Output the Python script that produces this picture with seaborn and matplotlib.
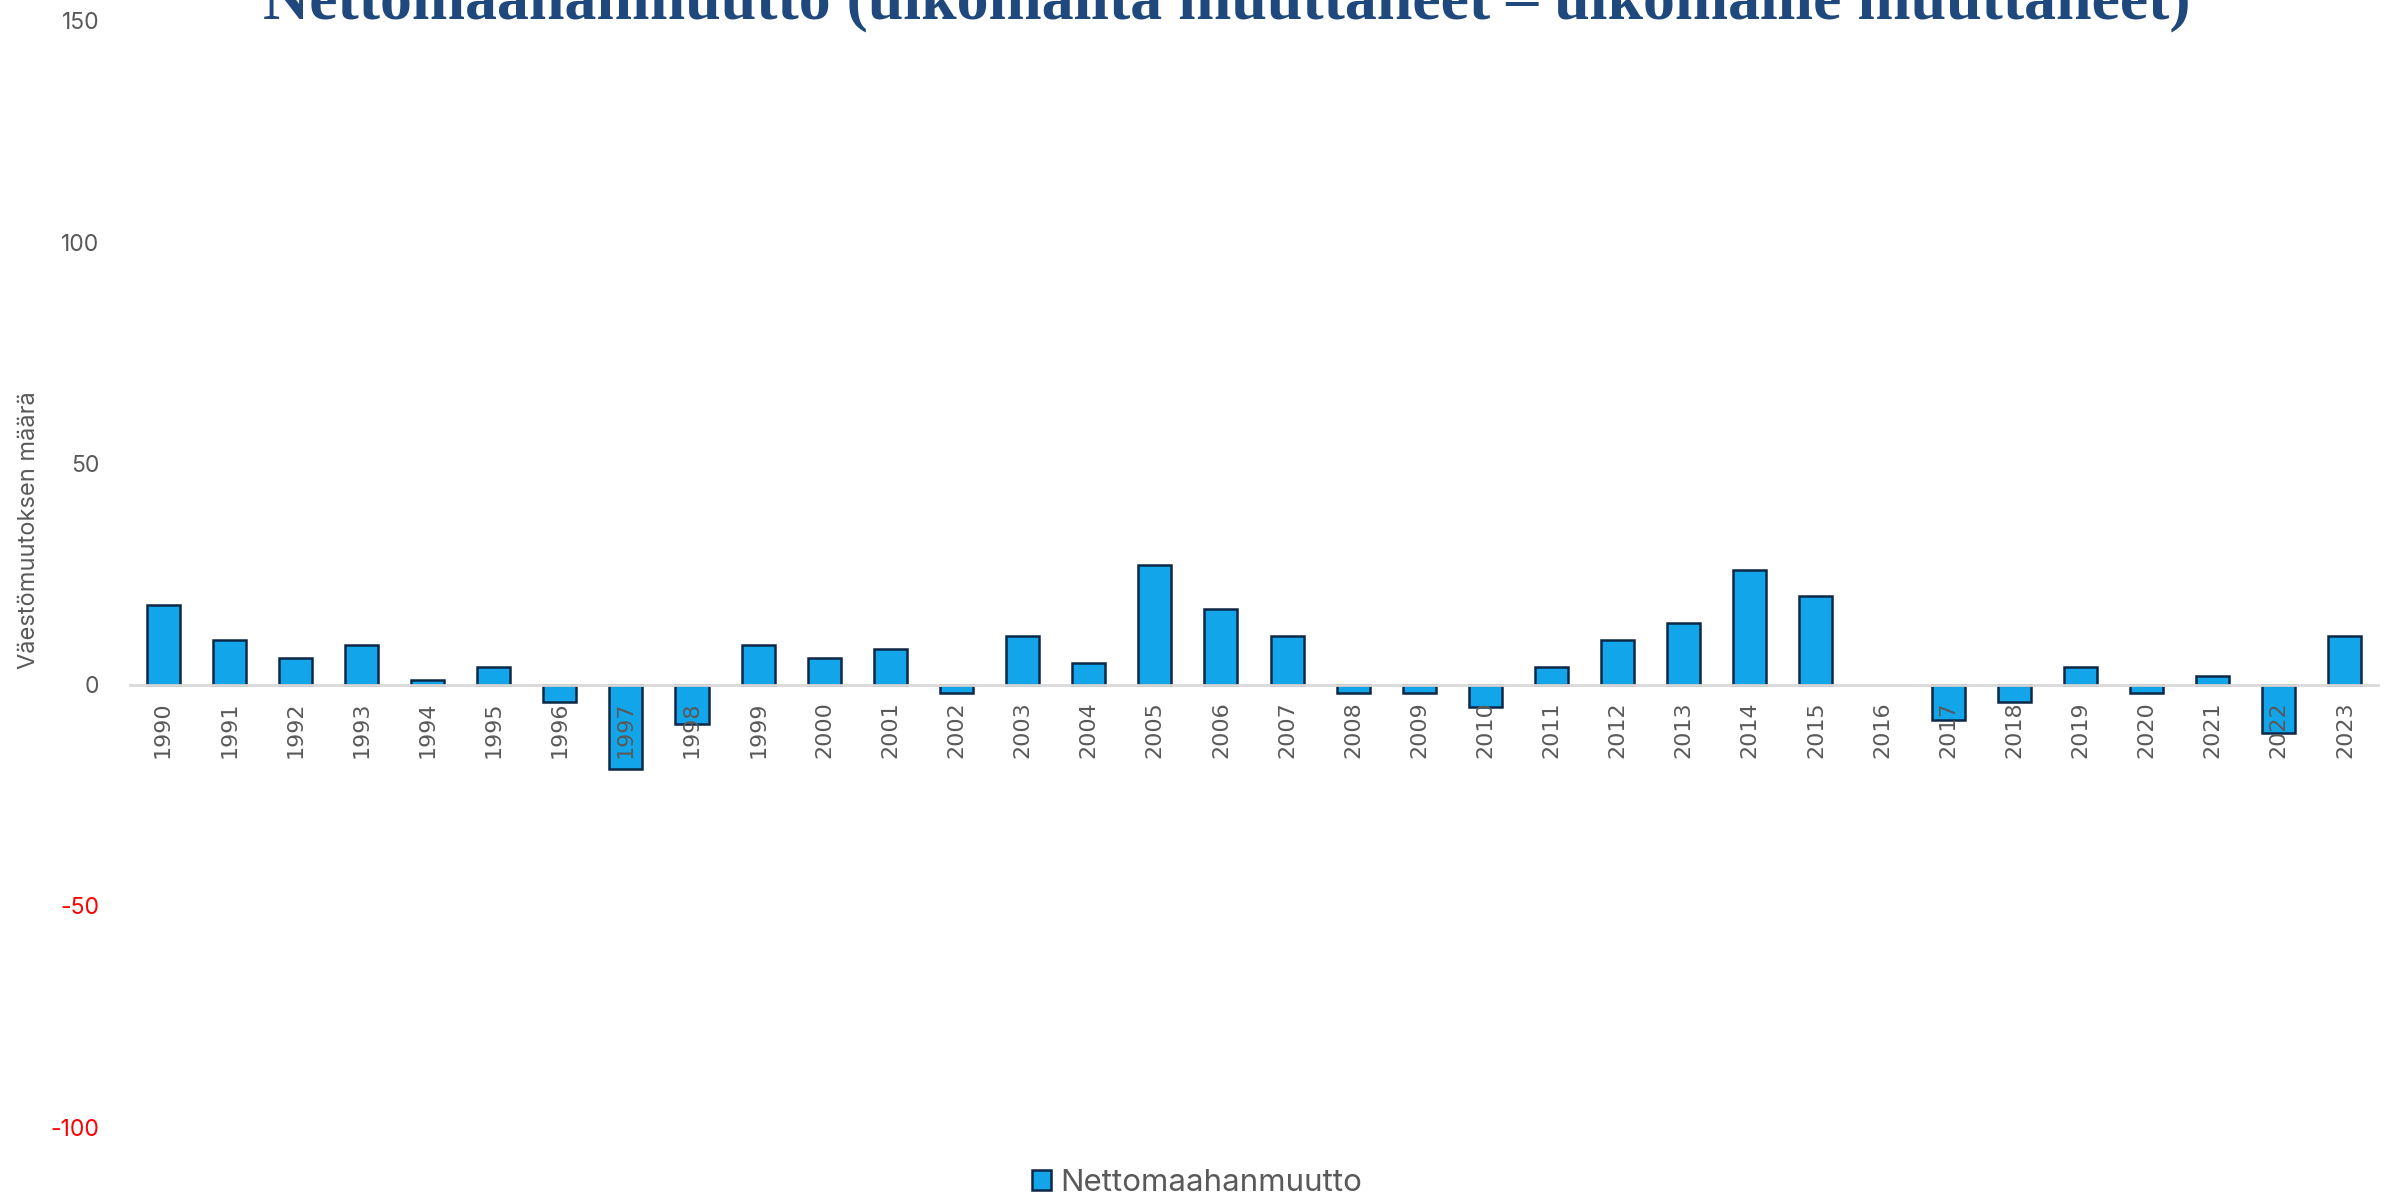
import matplotlib
matplotlib.use("Agg")
import matplotlib.pyplot as plt
import seaborn as sns
import pandas as pd

years = [str(y) for y in range(1990, 2024)]
values = [18, 10, 6, 9, 1, 4, -4, -19, -9, 9, 6, 8, -2, 11, 5, 27,
          17, 11, -2, -2, -5, 4, 10, 14, 26, 20, 0, -8, -4, 4, -2, 2, -11, 11]
series_name = "Nettomaahanmuutto"
title = "Nettomaahanmuutto (ulkomailta muuttaneet \u2013 ulkomaille muuttaneet)"
y_label = "V\u00e4est\u00f6muutoksen m\u00e4\u00e4r\u00e4"
y_ticks = [-100, -50, 0, 50, 100, 150]

sns.set_theme(style="white")
plt.rcParams["font.family"] = ["Inter", "DejaVu Sans"]

df = pd.DataFrame({"Vuosi": years, "Arvo": values, "Sarja": series_name})

fig = plt.figure(figsize=(23.94, 11.99), dpi=100)
ax = fig.add_axes([0.0543, 0.060, 0.9390, 0.9225])

sns.barplot(data=df, x="Vuosi", y="Arvo", hue="Sarja", palette=["#12A5EA"],
            edgecolor="#0C2846", linewidth=1.8, width=0.5, ax=ax, legend=True,
            saturation=1)
for cont in ax.containers:
    for bar in cont:
        if bar.get_height() == 0:
            bar.set_linewidth(0)

ax.set_ylim(-100, 150)
ax.set_xlim(-0.5, len(years) - 0.5)
ax.set_yticks(y_ticks)
ax.set_yticklabels([str(t) for t in y_ticks])
for lbl, t in zip(ax.get_yticklabels(), y_ticks):
    lbl.set_color("#FF0000" if t < 0 else "#595959")
    lbl.set_fontsize(16.5)
ax.tick_params(axis="y", length=0, pad=22)

for s in ["top", "right", "left"]:
    ax.spines[s].set_visible(False)
ax.spines["bottom"].set_position(("data", 0))
ax.spines["bottom"].set_color("#D9D9D9")
ax.spines["bottom"].set_linewidth(2)
ax.set_axisbelow(False)

ax.tick_params(axis="x", length=0, pad=12, labelrotation=90, labelsize=16,
               labelcolor="#595959")
for lbl in ax.get_xticklabels():
    lbl.set_fontfamily(["DejaVu Sans"])

ax.set_xlabel("")
ax.set_ylabel(y_label, fontsize=17, color="#595959")
ax.yaxis.set_label_coords(-0.040, 0.54)

handles, labels = ax.get_legend_handles_labels()
if ax.get_legend() is not None:
    ax.get_legend().remove()
fig.legend(handles, labels, loc="center", bbox_to_anchor=(0.5, 0.0133),
           frameon=False, fontsize=22.5, labelcolor="#595959",
           handlelength=0.6, handleheight=0.6, handletextpad=0.3)

fig.text(0.5125, 0.985, title, ha="center", va="baseline",
         fontsize=46, fontweight="bold", color="#1F497D",
         family=["Liberation Serif", "DejaVu Serif"])

fig.savefig("out.png", dpi=100, facecolor="white")
